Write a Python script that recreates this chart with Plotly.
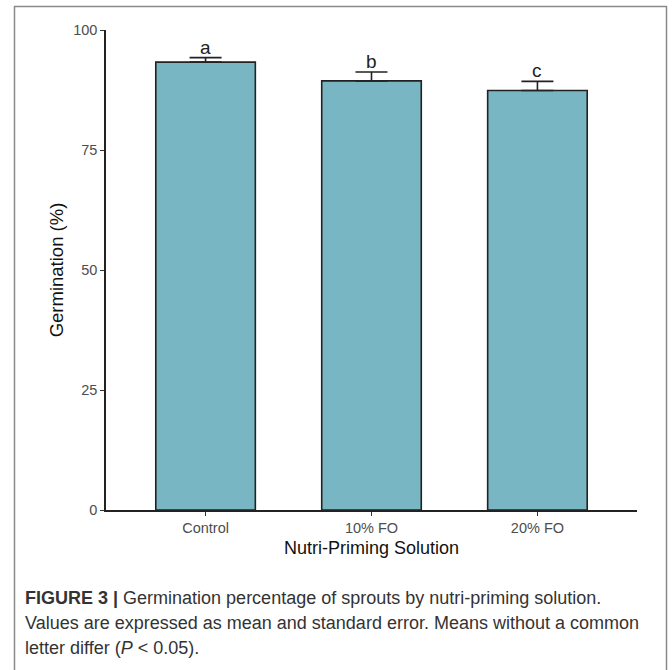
import plotly.graph_objects as go

# Germination by nutri-priming treatment (mean and standard error)
treatments = ["Control", "10% FO", "20% FO"]
germination_mean = [93.3, 89.4, 87.4]
germination_se = [0.95, 1.85, 1.9]
group_letters = ["a", "b", "c"]
y_ticks = [0, 25, 50, 75, 100]

BAR_COLOR = "#78b6c4"
INK = "#222222"
FONT = "Liberation Sans, Arial, sans-serif"

fig = go.Figure()
fig.add_trace(go.Bar(
    x=list(range(len(treatments))),
    y=germination_mean,
    width=0.6,
    marker=dict(color=BAR_COLOR, line=dict(color=INK, width=1.6)),
    error_y=dict(
        type="data",
        array=germination_se,
        arrayminus=[0] * len(germination_se),
        symmetric=False,
        color=INK,
        thickness=1.6,
        width=16,
    ),
    showlegend=False,
    hoverinfo="skip",
))

# significance letters above each error bar
for i, (m, se, lab) in enumerate(zip(germination_mean, germination_se, group_letters)):
    fig.add_annotation(
        x=i, y=m + se, text=lab, showarrow=False,
        xref="x", yref="y", yanchor="bottom", yshift=-2,
        font=dict(family=FONT, size=19, color=INK),
    )

# plot area in pixels
L, T, W, H = 106, 30, 531, 480
def px_to_paper_x(px):
    return (px - L) / W
def px_to_paper_y(py):
    return (T + H - py) / H

# caption below the chart
caption_font = dict(family=FONT, size=18, color="#333333")
caption_lines = [
    "<b>FIGURE 3 |</b> Germination percentage of sprouts by nutri-priming solution.",
    "Values are expressed as mean and standard error. Means without a common",
    "letter differ (<i>P</i> &lt; 0.05).",
]
for k, line in enumerate(caption_lines):
    fig.add_annotation(
        text=line, showarrow=False, xref="paper", yref="paper",
        x=px_to_paper_x(23), y=px_to_paper_y(598 + 25 * k),
        xanchor="left", yanchor="middle", align="left", font=caption_font,
    )

# outer frame around figure and caption
fig.add_shape(
    type="rect", xref="paper", yref="paper",
    x0=px_to_paper_x(14.5), x1=px_to_paper_x(666.5),
    y0=px_to_paper_y(700), y1=px_to_paper_y(6.5),
    line=dict(color="#8a8a8a", width=1.5), fillcolor="rgba(0,0,0,0)", layer="below",
)

fig.update_layout(
    width=672, height=670,
    margin=dict(l=L, r=672 - L - W, t=T, b=670 - T - H),
    paper_bgcolor="white", plot_bgcolor="white",
    font=dict(family=FONT),
)
fig.update_xaxes(
    range=[-0.6, 2.6],
    tickvals=list(range(len(treatments))), ticktext=treatments,
    showline=True, linecolor=INK, linewidth=1.5,
    ticks="outside", ticklen=4, tickcolor="#333333", tickwidth=1.2,
    tickfont=dict(size=14.5, color="#4d4d4d"),
    showgrid=False, zeroline=False,
    title=dict(text="Nutri-Priming Solution", font=dict(size=18, color="#111111"), standoff=6),
)
fig.update_yaxes(
    range=[0, 100],
    tickvals=y_ticks,
    showline=True, linecolor=INK, linewidth=1.5,
    ticks="outside", ticklen=4, tickcolor="#333333", tickwidth=1.2,
    tickfont=dict(size=14.5, color="#4d4d4d"),
    showgrid=False, zeroline=False,
    title=dict(text="Germination (%)", font=dict(size=18.5, color="#111111"), standoff=5),
)

fig.write_html("out.html")
